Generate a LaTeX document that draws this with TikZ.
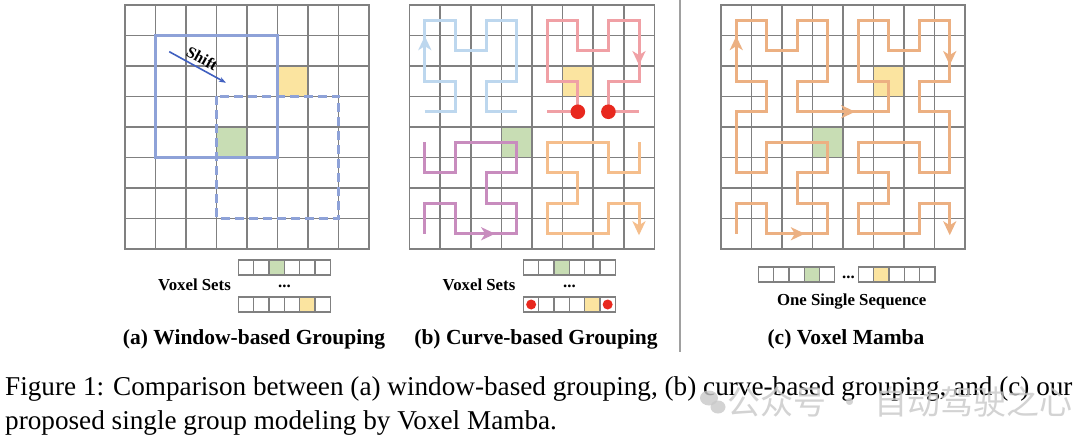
\documentclass[tikz,border=0pt]{standalone}
\usepackage{fontspec}
\setmainfont{Liberation Serif}
\newfontfamily\cjkfont{Noto Sans CJK SC}
\usetikzlibrary{arrows.meta}

\definecolor{gridgray}{RGB}{128,128,128}
\definecolor{sepgray}{RGB}{160,160,160}
\definecolor{cellgreen}{RGB}{200,221,180}
\definecolor{cellyellow}{RGB}{251,228,160}
\definecolor{winblue}{RGB}{142,162,216}
\definecolor{shiftblue}{RGB}{64,96,192}
\definecolor{cblue}{RGB}{189,215,238}
\definecolor{cred}{RGB}{240,160,165}
\definecolor{cpurple}{RGB}{200,140,190}
\definecolor{corange}{RGB}{245,190,140}
\definecolor{corangeb}{RGB}{236,176,130}
\definecolor{dotred}{RGB}{232,40,30}
\definecolor{wmgray}{RGB}{200,200,200}

\tikzset{
  gridline/.style={draw=gridgray, line width=1.6pt, line cap=rect},
  winrect/.style={draw=winblue, line width=3pt},
  winrectdash/.style={draw=winblue, line width=3pt, dash pattern=on 9pt off 5pt},
  shiftarrow/.style={draw=shiftblue, line width=1.6pt, -{Stealth[length=7pt,width=5pt]}},
  curve/.style={line width=3pt, line join=miter, line cap=butt},
  tiphead/.style={-{Stealth[length=14pt,width=13pt,inset=4pt]}},
  stripcell/.style={draw=gridgray, line width=1.3pt, fill=white},
  smalltxt/.style={font=\fontsize{16.8}{20}\selectfont\bfseries, inner sep=0pt},
  lbl/.style={font=\fontsize{21.5}{26}\selectfont\bfseries, anchor=base, inner sep=0pt},
  captxt/.style={font=\fontsize{27.2}{34}\selectfont, anchor=base west, inner sep=0pt},
}

\newcommand{\gridlines}{%
  \foreach \i in {0,...,8} {\draw[gridline] (\i,0) -- (\i,8); \draw[gridline] (0,\i) -- (8,\i);}}
\newcommand{\scell}[3]{\draw[stripcell,fill=#3] (#1,#2) rectangle ++(15.3,15);}

\begin{document}
\begin{tikzpicture}[x=1pt,y=-1pt]
\useasboundingbox (0,0) rectangle (1080,441);
\fill[white] (0,0) rectangle (1080,441);

% ---------------- panel (a)
\begin{scope}[shift={(125,5)},x=30.5pt,y=-30.5pt]
  \fill[cellyellow] (5,2) rectangle (6,3);
  \fill[cellgreen] (3,4) rectangle (4,5);
  \gridlines
  \draw[winrect] (1,1) rectangle (5,5);
  \draw[winrectdash] (3,3) rectangle (7,7);
  \coordinate (shA) at (1.45,1.53);
  \coordinate (shB) at (3.31,2.55);
  \draw[shiftarrow] (shA) -- (shB);
  \node[font=\fontsize{16}{19}\selectfont\bfseries, rotate=-29, inner sep=0pt] (shT) at (2.53,1.75) {Shift};
\end{scope}

% ---------------- panel (b)
\begin{scope}[shift={(409.5,5)},x=30.6pt,y=-30.5pt]
  \fill[cellyellow] (5,2) rectangle (6,3);
  \fill[cellgreen] (3,4) rectangle (4,5);
  \gridlines
  \begin{scope}[shift={(0.5,0.5)}]
    \draw[curve,draw=cblue] (0,3) -- (1,3) -- (1,2) -- (0,2) -- (0,0) -- (1,0) -- (1,1) -- (2,1) -- (2,0) -- (3,0) -- (3,2) -- (2,2) -- (2,3) -- (3,3);
    \draw[curve,draw=cblue,tiphead] (0,1.4) -- (0,0.52);
    \draw[curve,draw=cred] (4,3) -- (5,3) -- (5,2) -- (4,2) -- (4,0) -- (5,0) -- (5,1) -- (6,1) -- (6,0) -- (7,0) -- (7,2) -- (6,2) -- (6,3) -- (7,3);
    \draw[curve,draw=cred,tiphead] (7,0.6) -- (7,1.47);
    \draw[curve,draw=cpurple] (0,4) -- (0,5) -- (1,5) -- (1,4) -- (3,4) -- (3,5) -- (2,5) -- (2,6) -- (3,6) -- (3,7) -- (1,7) -- (1,6) -- (0,6) -- (0,7);
    \draw[curve,draw=cpurple,tiphead] (1.4,7) -- (2.3,7);
    \draw[curve,draw=corange,tiphead] (7,4) -- (7,5) -- (6,5) -- (6,4) -- (4,4) -- (4,5) -- (5,5) -- (5,6) -- (4,6) -- (4,7) -- (6,7) -- (6,6) -- (7,6) -- (7,7.05);
    \fill[dotred] (5,3) circle (7.3pt);
    \fill[dotred] (6,3) circle (7.3pt);
  \end{scope}
\end{scope}

% ---------------- separator
\coordinate (sepT) at (680,0);
\coordinate (sepB) at (680,352);
\draw[draw=sepgray, line width=1.8pt] (sepT) -- (sepB);

% ---------------- panel (c)
\begin{scope}[shift={(721,5)},x=30.5pt,y=-30.5pt]
  \fill[cellyellow] (5,2) rectangle (6,3);
  \fill[cellgreen] (3,4) rectangle (4,5);
  \gridlines
  \begin{scope}[shift={(0.5,0.5)}]
    \draw[curve,draw=corangeb,tiphead] (0,7) -- (0,6) -- (1,6) -- (1,7) -- (3,7) -- (3,6) -- (2,6) -- (2,5) -- (3,5) -- (3,4) -- (1,4) -- (1,5) -- (0,5) -- (0,3) -- (1,3) -- (1,2) -- (0,2) -- (0,0) -- (1,0) -- (1,1) -- (2,1) -- (2,0) -- (3,0) -- (3,2) -- (2,2) -- (2,3) -- (5,3) -- (5,2) -- (4,2) -- (4,0) -- (5,0) -- (5,1) -- (6,1) -- (6,0) -- (7,0) -- (7,2) -- (6,2) -- (6,3) -- (7,3) -- (7,5) -- (6,5) -- (6,4) -- (4,4) -- (4,5) -- (5,5) -- (5,6) -- (4,6) -- (4,7) -- (6,7) -- (6,6) -- (7,6) -- (7,7.05);
    \draw[curve,draw=corangeb,tiphead] (1.4,7) -- (2.25,7);
    \draw[curve,draw=corangeb,tiphead] (0,1.4) -- (0,0.52);
    \draw[curve,draw=corangeb,tiphead] (3,3) -- (3.9,3);
    \draw[curve,draw=corangeb,tiphead] (7,0.6) -- (7,1.47);
  \end{scope}
\end{scope}

% ---------------- strips (a)
\foreach \k in {0,...,5} {\scell{238.5+15.3*\k}{260}{white}}
\scell{238.5+15.3*2}{260}{cellgreen}
\foreach \k in {0,...,5} {\scell{238.5+15.3*\k}{297}{white}}
\scell{238.5+15.3*4}{297}{cellyellow}
\node[smalltxt] (vsA) at (194.5,285) {Voxel Sets};
\node[smalltxt, anchor=base] (dotA) at (284.4,287.5) {...};

% ---------------- strips (b)
\foreach \k in {0,...,5} {\scell{523.5+15.3*\k}{260}{white}}
\scell{523.5+15.3*2}{260}{cellgreen}
\foreach \k in {0,...,5} {\scell{523.5+15.3*\k}{297}{white}}
\scell{523.5+15.3*4}{297}{cellyellow}
\fill[dotred] (523.5+7.65,304.5) circle (5pt);
\fill[dotred] (523.5+15.3*5+7.65,304.5) circle (5pt);
\node[smalltxt] (vsB) at (479,285) {Voxel Sets};
\node[smalltxt, anchor=base] (dotB) at (569.4,287.5) {...};

% ---------------- strip (c)
\foreach \k in {0,...,4} {\scell{758.3+15.3*\k}{267}{white}}
\scell{758.3+15.3*3}{267}{cellgreen}
\foreach \k in {0,...,4} {\scell{858.5+15.3*\k}{267}{white}}
\scell{858.5+15.3*1}{267}{cellyellow}
\node[smalltxt, anchor=base] (dotC) at (848.4,278) {...};
\node[smalltxt] (oss) at (851.7,301.5) {One Single Sequence};

% ---------------- panel labels
\node[lbl] (labA) at (254,344) {(a) Window-based Grouping};
\node[lbl] (labB) at (536,344) {(b) Curve-based Grouping};
\node[lbl] (labC) at (846,344) {(c) Voxel Mamba};

% ---------------- caption
\node[captxt] (cap1) at (5,395) {Figure 1: Comparison between (a) window-based grouping, (b) curve-based grouping, and (c) our};
\node[captxt] (cap2) at (5,429) {proposed single group modeling by Voxel Mamba.};

% ---------------- watermark
\fill[wmgray, opacity=0.8] (709,398) ellipse (9pt and 7.5pt);
\fill[wmgray, opacity=0.8] (718,407) ellipse (7.5pt and 6.5pt);
\node[font=\fontsize{33}{38}\selectfont\cjkfont, text=wmgray, opacity=0.8, inner sep=0pt] (wm) at (900,402) {公众号 · 自动驾驶之心};
\end{tikzpicture}
\end{document}
